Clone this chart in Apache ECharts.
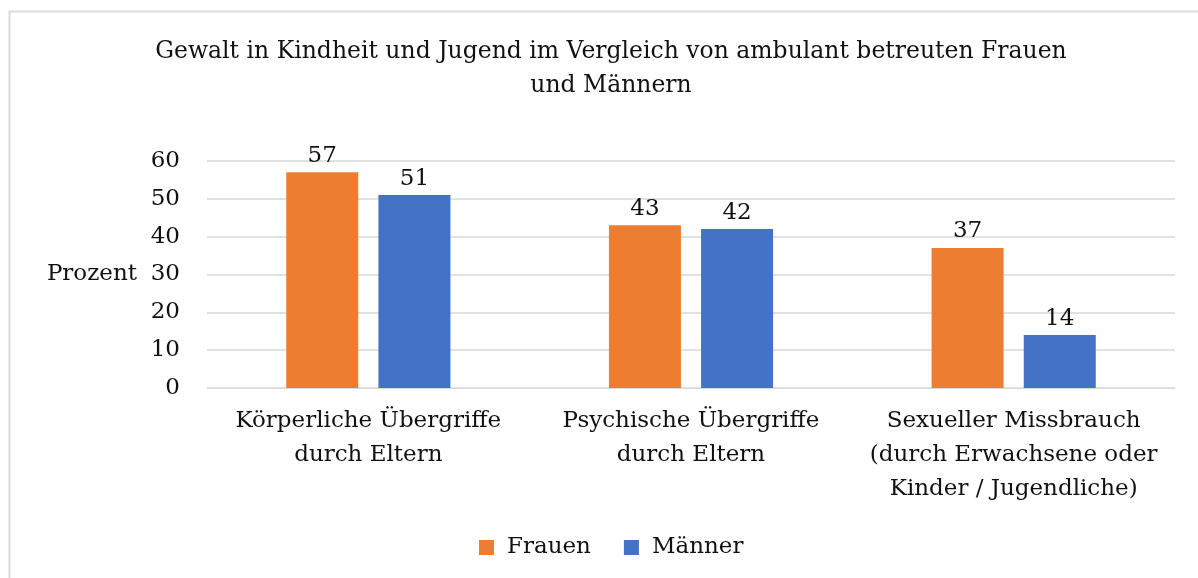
<!DOCTYPE html>
<html>
<head>
<meta charset="utf-8">
<script src="https://cdn.jsdelivr.net/npm/echarts@6/dist/echarts.min.js"></script>
<style>
  html, body { margin: 0; padding: 0; background: #fff; }
  #main { width: 1198px; height: 578px; }
</style>
</head>
<body>
<div id="main"></div>
<script>
var categories = [
  'Körperliche Übergriffe\ndurch Eltern',
  'Psychische Übergriffe\ndurch Eltern',
  'Sexueller Missbrauch\n(durch Erwachsene oder\nKinder / Jugendliche)'
];
var frauen = [57, 43, 37];
var maenner = [51, 42, 14];
var seriesNames = ['Frauen', 'Männer'];
var yTicks = [0, 60, 10];  // min, max, interval

var FONT = 'DejaVu Serif';
var FS = 23;
var chart = echarts.init(document.getElementById('main'));

var option = {
  backgroundColor: '#fff',
  color: ['#ED7D31', '#4472C4'],
  textStyle: { fontFamily: FONT },
  title: {
    text: 'Gewalt in Kindheit und Jugend im Vergleich von ambulant betreuten Frauen\nund Männern',
    left: 606,
    top: 30,
    textAlign: 'center',
    textStyle: {
      fontFamily: FONT,
      fontWeight: 'normal',
      fontSize: 23.5,
      lineHeight: 34,
      color: '#111'
    }
  },
  legend: {
    data: seriesNames,
    left: 474,
    top: 531,
    itemWidth: 15,
    itemHeight: 15,
    itemGap: 33,
    icon: 'rect',
    textStyle: { fontFamily: FONT, fontSize: FS, color: '#111', padding: [0, 0, 0, 8] }
  },
  grid: {
    left: 207,
    right: 23,
    top: 161,
    bottom: 190,
    containLabel: false
  },
  xAxis: {
    type: 'category',
    data: categories,
    axisLine: { show: true, lineStyle: { color: '#d9d9d9' } },
    axisTick: { show: false },
    axisLabel: {
      color: '#111',
      fontFamily: FONT,
      fontSize: FS,
      lineHeight: 34,
      margin: 16,
      interval: 0
    }
  },
  yAxis: {
    type: 'value',
    min: yTicks[0],
    max: yTicks[1],
    interval: yTicks[2],
    name: 'Prozent',
    nameLocation: 'middle',
    nameRotate: 0,
    nameGap: 70,
    nameTextStyle: { fontFamily: FONT, fontSize: FS, color: '#111', align: 'right' },
    axisLine: { show: false },
    axisTick: { show: false },
    axisLabel: { color: '#111', fontFamily: FONT, fontSize: FS, margin: 27 },
    splitLine: { lineStyle: { color: '#d9d9d9', width: 1.5 } }
  },
  series: [
    {
      name: seriesNames[0],
      type: 'bar',
      data: frauen,
      barWidth: 72,
      barGap: '28%',
      label: { show: true, position: 'top', distance: 5, color: '#111', fontFamily: FONT, fontSize: FS }
    },
    {
      name: seriesNames[1],
      type: 'bar',
      data: maenner,
      barWidth: 72,
      barGap: '28%',
      label: { show: true, position: 'top', distance: 5, color: '#111', fontFamily: FONT, fontSize: FS }
    }
  ],
  graphic: [
    {
      type: 'rect',
      left: 7,
      top: 9,
      shape: { width: 1230, height: 620 },
      style: { fill: 'none', stroke: '#d9d9d9', lineWidth: 2 },
      silent: true,
      z: -1
    }
  ]
};

chart.setOption(option);
</script>
</body>
</html>
